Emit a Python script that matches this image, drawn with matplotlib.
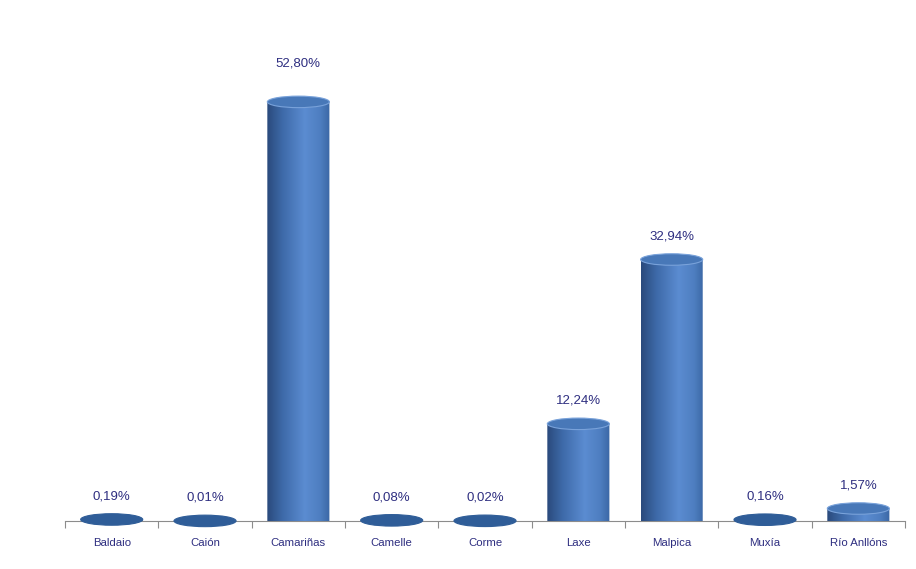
import numpy as np
import matplotlib
matplotlib.use("Agg")
import matplotlib.pyplot as plt
from matplotlib.patches import Ellipse, Polygon
from matplotlib.colors import LinearSegmentedColormap

# Data
categorias = ["Baldaio", "Caión", "Camariñas", "Camelle", "Corme",
              "Laxe", "Malpica", "Muxía", "Río Anllóns"]
valores = [0.19, 0.01, 52.80, 0.08, 0.02, 12.24, 32.94, 0.16, 1.57]
etiquetas = ["0,19%", "0,01%", "52,80%", "0,08%", "0,02%",
             "12,24%", "32,94%", "0,16%", "1,57%"]

texto = "#2e2e80"
cmap = LinearSegmentedColormap.from_list(
    "cyl", [(0.0, "#2a4a7c"), (0.25, "#3e6aa9"), (0.6, "#5b8cd1"),
            (0.85, "#4e7ec0"), (1.0, "#3b67a4")])

fig = plt.figure(figsize=(9.16, 5.69), dpi=100)
ax = fig.add_axes([0.071, 0.0844, 0.917, 0.837])
ax.set_xlim(-0.5, 8.5)
ax.set_ylim(0, 60)

w = 0.665
eh = 1.45  # ellipse height in data units
base = 0.0
grad = np.linspace(0, 1, 256).reshape(1, -1)

for i, v in enumerate(valores):
    top = base + v
    th = np.linspace(np.pi, 2 * np.pi, 60)
    arc = np.column_stack([i + w / 2 * np.cos(th), base + eh / 2 * np.sin(th)])
    verts = np.vstack([[i - w / 2, top], arc, [i + w / 2, top]])
    body = Polygon(verts, closed=True, facecolor="none", edgecolor="none",
                   transform=ax.transData)
    ax.add_patch(body)
    body.set_clip_on(False)
    im = ax.imshow(grad, cmap=cmap, aspect="auto",
                   extent=[i - w / 2, i + w / 2, base - eh / 2, top],
                   zorder=2, interpolation="bilinear")
    im.set_clip_path(body)
    if v < 1:
        fc, ec = "#2f5d98", "#2f5d98"
    else:
        fc, ec = "#4878b8", "#79a2da"
    ax.add_patch(Ellipse((i, top), w, eh, facecolor=fc,
                         edgecolor=ec, linewidth=0.8, zorder=3,
                         clip_on=False))
    off = 38 if v > 50 else 23
    ax.annotate(etiquetas[i], (i, top), xytext=(0, off),
                textcoords="offset pixels", ha="center", va="center",
                fontsize=9.5, color=texto, family="Liberation Sans")

ax.set_xticks(range(len(categorias)))
ax.set_xticklabels(categorias, fontsize=8.2, color=texto, family="Liberation Sans")
ax.tick_params(axis="x", which="major", length=0, pad=12)
ax.set_xticks(np.arange(-0.5, 9, 1), minor=True)
ax.tick_params(axis="x", which="minor", length=5, color="#8c8c8c", width=0.8)
ax.set_yticks([])
for s in ["top", "right", "left"]:
    ax.spines[s].set_visible(False)
ax.spines["bottom"].set_color("#8c8c8c")
ax.spines["bottom"].set_zorder(1)

fig.savefig("out.png", dpi=100)
